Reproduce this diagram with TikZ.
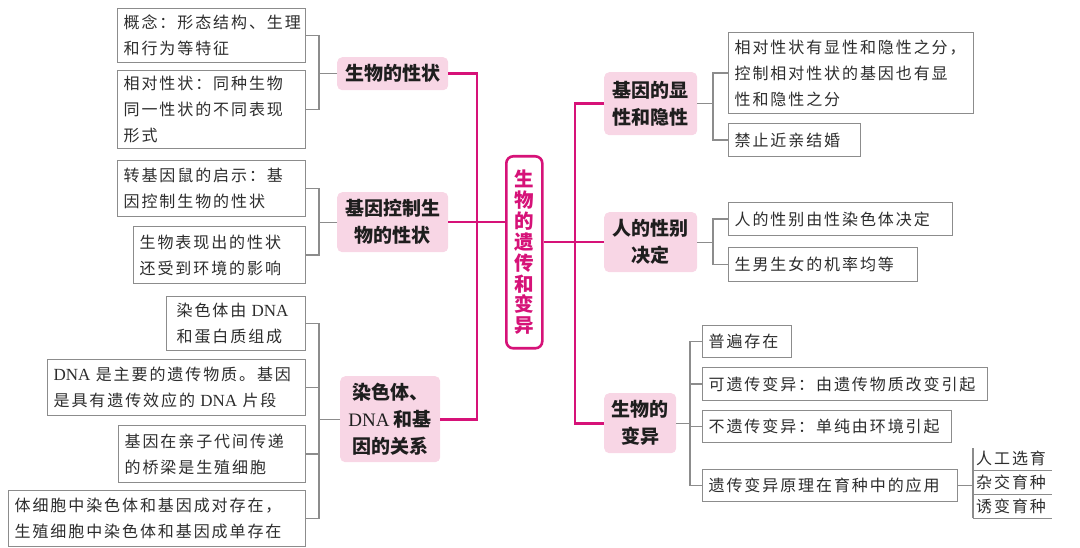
\documentclass[tikz,border=0pt]{standalone}
\usepackage{fontspec}
\setmainfont{Noto Sans CJK SC}
\newfontfamily\leaffont[LetterSpace=12]{Noto Sans CJK SC}
\newfontfamily\topfont{Noto Sans CJK SC}
\newfontfamily\latinserif{Liberation Serif}
\newcommand\dnatext{{\latinserif\fontsize{17}{26}\selectfont DNA}}
\definecolor{mag}{RGB}{214,18,120}
\definecolor{topicpink}{RGB}{248,214,229}
\definecolor{boxgray}{RGB}{140,140,140}
\definecolor{txtgray}{RGB}{45,45,45}
\definecolor{topictext}{RGB}{30,30,30}
\begin{document}
\begin{tikzpicture}[x=1pt,y=-1pt,
  leaf/.style={draw=boxgray, line width=1.2pt, fill=white, text=txtgray,
    font=\leaffont\fontsize{16}{26}\selectfont, align=left, anchor=north west,
    inner xsep=6pt, inner ysep=0pt},
  sub/.style={text=txtgray, font=\leaffont\fontsize{16}{26}\selectfont, align=left,
    anchor=north west, inner xsep=3pt, inner ysep=0pt, text width=73pt, minimum height=24pt},
  topic/.style={fill=topicpink, rounded corners=5pt, text=topictext,
    font=\topfont\bfseries\fontsize{19}{27}\selectfont, align=center,
    anchor=north west, inner sep=0pt},
  center/.style={draw=mag, line width=2.6pt, rounded corners=7pt, fill=white, text=mag,
    font=\topfont\bfseries\fontsize{19.5}{20.9}\selectfont, align=center,
    anchor=north west, inner sep=0pt},
  mline/.style={draw=mag, line width=2.6pt},
  gline/.style={draw=boxgray, line width=1.3pt}]
\useasboundingbox (0,0) rectangle (1080,548);

% central
\node[center, minimum width=36pt, minimum height=192pt] (C) at (505,155)
  {生\\物\\的\\遗\\传\\和\\变\\异};

% topics
\node[topic, minimum width=111pt, minimum height=33pt] (T1) at (337,57) {生物的性状};
\node[topic, minimum width=111pt, minimum height=60pt] (T2) at (337,192) {基因控制生\\物的性状};
\node[topic, minimum width=100pt, minimum height=86pt] (T3) at (340,376) {染色体、\\{\latinserif\mdseries DNA} 和基\\因的关系};
\node[topic, minimum width=93pt, minimum height=63pt] (T4) at (604,72) {基因的显\\性和隐性};
\node[topic, minimum width=93pt, minimum height=60pt] (T5) at (604,212) {人的性别\\决定};
\node[topic, minimum width=72pt, minimum height=60pt] (T6) at (604,393) {生物的\\变异};

% left leaves
\node[leaf, text width=176pt, minimum height=54pt] (L1) at (117,8) {概念：形态结构、生理\\和行为等特征};
\node[leaf, text width=176pt, minimum height=78pt] (L2) at (117,70) {相对性状：同种生物\\同一性状的不同表现\\形式};
\node[leaf, text width=176pt, minimum height=56pt] (L3) at (117,160) {转基因鼠的启示：基\\因控制生物的性状};
\node[leaf, text width=160pt, minimum height=57pt] (L4) at (133,226) {生物表现出的性状\\还受到环境的影响};
\node[leaf, text width=127pt, minimum height=54pt] (L5) at (166,296) {\hspace*{4pt}染色体由 \dnatext\\\hspace*{4pt}和蛋白质组成};
\node[leaf, text width=246pt, minimum height=56pt] (L6) at (47,359) {\dnatext{} 是主要的遗传物质。基因\\是具有遗传效应的 \dnatext{} 片段};
\node[leaf, text width=175pt, minimum height=57pt] (L7) at (118,425) {基因在亲子代间传递\\的桥梁是生殖细胞};
\node[leaf, text width=285pt, minimum height=56pt] (L8) at (8,490) {体细胞中染色体和基因成对存在，\\生殖细胞中染色体和基因成单存在};

% right leaves
\node[leaf, text width=233pt, minimum height=81pt] (R1) at (728,32) {相对性状有显性和隐性之分，\\控制相对性状的基因也有显\\性和隐性之分};
\node[leaf, text width=120pt, minimum height=33pt] (R2) at (728,123) {禁止近亲结婚};
\node[leaf, text width=212pt, minimum height=33pt] (R3) at (728,202) {人的性别由性染色体决定};
\node[leaf, text width=177pt, minimum height=34pt] (R4) at (728,247) {生男生女的机率均等};
\node[leaf, text width=77pt, minimum height=32pt] (R5) at (702,325) {普遍存在};
\node[leaf, text width=273pt, minimum height=33pt] (R6) at (702,367) {可遗传变异：由遗传物质改变引起};
\node[leaf, text width=237pt, minimum height=32pt] (R7) at (702,410) {不遗传变异：单纯由环境引起};
\node[leaf, text width=243pt, minimum height=32pt] (R8) at (702,469) {遗传变异原理在育种中的应用};

% sub items
\node[sub] (S1) at (973,446) {人工选育};
\node[sub] (S2) at (973,470) {杂交育种};
\node[sub] (S3) at (973,494) {诱变育种};

% spine coordinates
\coordinate (ml) at (477,0);
\coordinate (mr) at (575,0);
\coordinate (gl) at (319,0);
\coordinate (gr) at (713,0);
\coordinate (gv) at (690,0);

% magenta connectors
\draw[mline] (T1.east) -- (T1.east -| ml) -- (T3.east -| ml) -- (T3.east);
\draw[mline] (T2.east) -- (C.west |- T2.east);
\draw[mline] (T4.west) -- (T4.west -| mr) -- (T6.west -| mr) -- (T6.west);
\draw[mline] (C.east |- T5.west) -- (T5.west);

% gray brackets left
\draw[gline] (L1.east) -- (L1.east -| gl) -- (L2.east -| gl) -- (L2.east);
\draw[gline] (T1.west) -- (T1.west -| gl);
\draw[gline] (L3.east) -- (L3.east -| gl) -- (L4.east -| gl) -- (L4.east);
\draw[gline] (T2.west) -- (T2.west -| gl);
\draw[gline] (L5.east) -- (L5.east -| gl) -- (L8.east -| gl) -- (L8.east);
\draw[gline] (L6.east) -- (L6.east -| gl);
\draw[gline] (L7.east) -- (L7.east -| gl);
\draw[gline] (T3.west) -- (T3.west -| gl);

% gray brackets right
\draw[gline] (R1.west) -- (R1.west -| gr) -- (R2.west -| gr) -- (R2.west);
\draw[gline] (T4.east) -- (T4.east -| gr);
\draw[gline] (R3.west) -- (R3.west -| gr) -- (R4.west -| gr) -- (R4.west);
\draw[gline] (T5.east) -- (T5.east -| gr);
\draw[gline] (R5.west) -- (R5.west -| gv) -- (R8.west -| gv) -- (R8.west);
\draw[gline] (R6.west) -- (R6.west -| gv);
\draw[gline] (R7.west) -- (R7.west -| gv);
\draw[gline] (T6.east) -- (T6.east -| gv);

% sub bracket
\draw[gline] (R8.east) -- (R8.east -| S2.west);
\draw[gline] ([yshift=-2pt]S1.north west) -- (S3.south west);
\draw[gline] (S1.south west) -- (S1.south east);
\draw[gline] (S2.south west) -- (S2.south east);
\draw[gline] (S3.south west) -- (S3.south east);
\end{tikzpicture}
\end{document}
